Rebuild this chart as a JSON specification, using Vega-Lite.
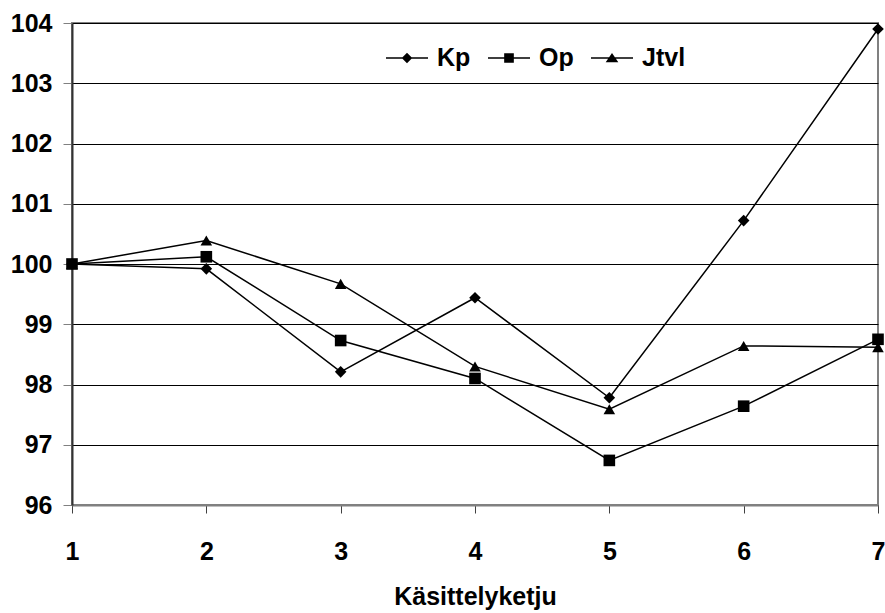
{
  "$schema": "https://vega.github.io/schema/vega-lite/v6.json",
  "width": 806,
  "height": 482,
  "autosize": {"type": "none"},
  "padding": {"left": 72, "top": 23, "right": 7, "bottom": 108},
  "background": "white",
  "config": {
    "font": "Liberation Sans",
    "view": {"stroke": "#808080", "strokeWidth": 2}
  },
  "data": {
    "values": [
      {"k": 1, "series": "Kp", "value": 100},
      {"k": 2, "series": "Kp", "value": 99.92},
      {"k": 3, "series": "Kp", "value": 98.21},
      {"k": 4, "series": "Kp", "value": 99.44},
      {"k": 5, "series": "Kp", "value": 97.78},
      {"k": 6, "series": "Kp", "value": 100.72},
      {"k": 7, "series": "Kp", "value": 103.9},
      {"k": 1, "series": "Op", "value": 100},
      {"k": 2, "series": "Op", "value": 100.12},
      {"k": 3, "series": "Op", "value": 98.73},
      {"k": 4, "series": "Op", "value": 98.1},
      {"k": 5, "series": "Op", "value": 96.74},
      {"k": 6, "series": "Op", "value": 97.64},
      {"k": 7, "series": "Op", "value": 98.75},
      {"k": 1, "series": "Jtvl", "value": 100},
      {"k": 2, "series": "Jtvl", "value": 100.39},
      {"k": 3, "series": "Jtvl", "value": 99.67},
      {"k": 4, "series": "Jtvl", "value": 98.3},
      {"k": 5, "series": "Jtvl", "value": 97.59},
      {"k": 6, "series": "Jtvl", "value": 98.64},
      {"k": 7, "series": "Jtvl", "value": 98.62}
    ]
  },
  "encoding": {
    "x": {
      "field": "k",
      "type": "quantitative",
      "scale": {"domain": [1, 7], "nice": false, "zero": false},
      "axis": {
        "title": "Käsittelyketju",
        "values": [1, 2, 3, 4, 5, 6, 7],
        "format": "d",
        "grid": false,
        "tickSize": 8,
        "tickColor": "#404040",
        "domainColor": "#808080",
        "domainWidth": 2,
        "labelFont": "Liberation Sans",
        "labelFontSize": 25,
        "labelFontWeight": "bold",
        "labelColor": "black",
        "labelPadding": 26,
        "labelFlush": false,
        "titleFont": "Liberation Sans",
        "titleFontSize": 25,
        "titleFontWeight": "bold",
        "titleColor": "black",
        "titlePadding": 20
      }
    },
    "y": {
      "field": "value",
      "type": "quantitative",
      "scale": {"domain": [96, 104], "nice": false, "zero": false},
      "axis": {
        "title": null,
        "values": [96, 97, 98, 99, 100, 101, 102, 103, 104],
        "format": "d",
        "grid": true,
        "gridColor": "black",
        "gridWidth": 1,
        "gridOpacity": 1,
        "tickSize": 9,
        "tickColor": "#808080",
        "domainColor": "#333333",
        "domainWidth": 2,
        "labelFont": "Liberation Sans",
        "labelFontSize": 25,
        "labelFontWeight": "bold",
        "labelColor": "black",
        "labelPadding": 11,
        "labelFlush": false
      }
    }
  },
  "layer": [
    {
      "mark": {"type": "line", "color": "black", "strokeWidth": 1.5},
      "encoding": {"detail": {"field": "series", "type": "nominal"}}
    },
    {
      "mark": {"type": "point", "filled": true, "color": "black", "opacity": 1, "size": 135},
      "encoding": {
        "shape": {
          "field": "series",
          "type": "nominal",
          "scale": {"domain": ["Kp", "Op", "Jtvl"], "range": ["diamond", "square", "triangle-up"]},
          "legend": null
        }
      }
    },
    {
      "transform": [{"filter": "false"}],
      "mark": {"type": "point", "filled": true, "color": "black", "opacity": 1},
      "encoding": {
        "shape": {
          "field": "series",
          "type": "nominal",
          "scale": {
            "domain": ["Kp", "Op", "Jtvl"],
            "range": [
              "M-1,-0.036H1V0.036H-1ZM0,-0.25L0.25,0L0,0.25L-0.25,0Z",
              "M-1,-0.036H1V0.036H-1ZM-0.23,-0.23H0.23V0.23H-0.23Z",
              "M-1,-0.036H1V0.036H-1ZM0,-0.24L0.3,0.2L-0.3,0.2Z"
            ]
          },
          "legend": {
            "title": null,
            "orient": "none",
            "direction": "horizontal",
            "legendX": 313,
            "legendY": 13,
            "padding": 0,
            "columnPadding": 14,
            "labelOffset": 8,
            "labelFont": "Liberation Sans",
            "labelFontSize": 25,
            "labelFontWeight": "bold",
            "labelColor": "black",
            "symbolSize": 1764,
            "symbolOpacity": 1
          }
        }
      }
    }
  ],
  "resolve": {"scale": {"shape": "independent"}}
}
